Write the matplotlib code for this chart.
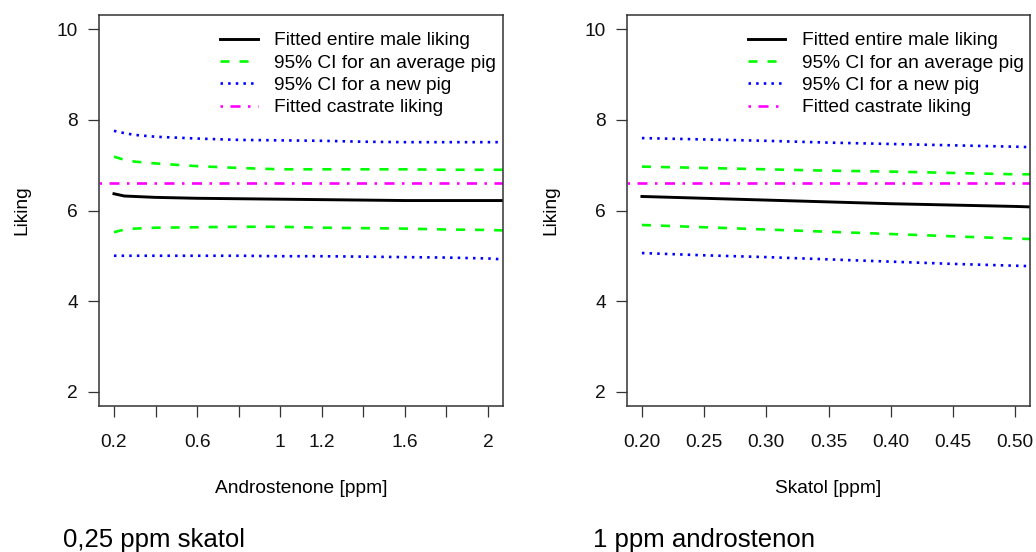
import matplotlib
matplotlib.use("Agg")
import matplotlib.pyplot as plt

plt.rcParams["font.family"] = ["Liberation Sans", "DejaVu Sans"]
plt.rcParams["lines.scale_dashes"] = False

# ── data ─────────────────────────────────────────────────────────────────────
# left panel: liking vs androstenone at 0,25 ppm skatol
andro_x = [0.2, 0.25, 0.3, 0.4, 0.6, 0.8, 1.0, 1.2, 1.4, 1.6, 1.8, 2.0, 2.07]
andro_fit = [6.37, 6.32, 6.31, 6.29, 6.27, 6.26, 6.25, 6.24, 6.23, 6.22, 6.22, 6.22, 6.22]
andro_avg_hi = [7.19, 7.12, 7.08, 7.04, 6.98, 6.94, 6.91, 6.91, 6.91, 6.91, 6.90, 6.90, 6.90]
andro_avg_lo = [5.52, 5.58, 5.60, 5.62, 5.63, 5.64, 5.64, 5.62, 5.61, 5.60, 5.58, 5.57, 5.56]
andro_new_hi = [7.76, 7.71, 7.67, 7.63, 7.59, 7.56, 7.55, 7.54, 7.52, 7.51, 7.51, 7.51, 7.51]
andro_new_lo = [5.00, 5.00, 5.00, 5.00, 5.00, 5.00, 4.99, 4.99, 4.98, 4.97, 4.96, 4.94, 4.92]

# right panel: liking vs skatol at 1 ppm androstenone
skatol_x = [0.2, 0.25, 0.3, 0.35, 0.4, 0.45, 0.5, 0.512]
skatol_fit = [6.31, 6.27, 6.23, 6.19, 6.15, 6.12, 6.09, 6.08]
skatol_avg_hi = [6.97, 6.94, 6.91, 6.88, 6.86, 6.83, 6.80, 6.80]
skatol_avg_lo = [5.68, 5.63, 5.58, 5.53, 5.48, 5.43, 5.38, 5.37]
skatol_new_hi = [7.60, 7.57, 7.54, 7.50, 7.47, 7.44, 7.41, 7.40]
skatol_new_lo = [5.06, 5.01, 4.97, 4.92, 4.87, 4.82, 4.78, 4.77]

castrate_liking = 6.6

andro_ticks = [0.2, 0.4, 0.6, 0.8, 1.0, 1.2, 1.4, 1.6, 1.8, 2.0]
andro_ticklabels = ["0.2", "", "0.6", "", "1", "1.2", "", "1.6", "", "2"]
skatol_ticks = [0.20, 0.25, 0.30, 0.35, 0.40, 0.45, 0.50]
skatol_ticklabels = ["0.20", "0.25", "0.30", "0.35", "0.40", "0.45", "0.50"]
y_ticks = [2, 4, 6, 8, 10]

legend_labels = ["Fitted entire male liking", "95% CI for an average pig",
                 "95% CI for a new pig", "Fitted castrate liking"]

FS = 13.8
GREEN = "#00FF00"
BLUE = "#0000FF"
MAGENTA = "#FF00FF"
DASH = (0, (6.5, 7.2))
DOT = (0, (1.8, 3.7))
DASHDOT = (0, (1.8, 5.4, 7.2, 5.4))
LW = 1.9


def draw_panel(ax, x, fit, avg_hi, avg_lo, new_hi, new_lo, xlim, ticks,
               ticklabels, xlabel):
    h_fit, = ax.plot(x, fit, color="black", lw=2.1)
    h_avg, = ax.plot(x, avg_hi, color=GREEN, lw=LW, ls=DASH)
    ax.plot(x, avg_lo, color=GREEN, lw=LW, ls=DASH)
    h_new, = ax.plot(x, new_hi, color=BLUE, lw=LW, ls=DOT)
    ax.plot(x, new_lo, color=BLUE, lw=LW, ls=DOT)
    h_cas = ax.axhline(castrate_liking, color=MAGENTA, lw=LW, ls=DASHDOT)

    ax.set_xlim(*xlim)
    ax.set_ylim(1.68, 10.32)
    ax.set_xticks(ticks)
    ax.set_xticklabels(ticklabels)
    ax.set_yticks(y_ticks)
    ax.tick_params(labelsize=FS, length=8, width=0.9, color="#333333",
                   labelcolor="#111111")
    ax.tick_params(axis="x", pad=12.5)
    ax.tick_params(axis="y", pad=7)
    for s in ax.spines.values():
        s.set_linewidth(1.1)
        s.set_color("#333333")

    ax.set_xlabel(xlabel, fontsize=FS)
    ax.xaxis.set_label_coords(0.5, -0.21)
    ax.xaxis.label.set_va("center")
    ax.set_ylabel("Liking", fontsize=FS)
    ax.yaxis.set_label_coords(-0.19, 0.5)
    ax.yaxis.label.set_va("center")

    ax.legend([h_fit, h_avg, h_new, h_cas], legend_labels, loc="upper left",
              bbox_to_anchor=(0.30, 0.957), frameon=False, fontsize=FS,
              handlelength=1.95, handletextpad=0.85, labelspacing=0.26,
              borderpad=0, borderaxespad=0)


fig = plt.figure(figsize=(10.36, 5.52), dpi=100)
ax1 = fig.add_axes([99 / 1036, 146 / 552, 404 / 1036, 391 / 552])
ax2 = fig.add_axes([627 / 1036, 146 / 552, 403 / 1036, 391 / 552])

draw_panel(ax1, andro_x, andro_fit, andro_avg_hi, andro_avg_lo,
           andro_new_hi, andro_new_lo, (0.128, 2.072), andro_ticks,
           andro_ticklabels, "Androstenone [ppm]")
draw_panel(ax2, skatol_x, skatol_fit, skatol_avg_hi, skatol_avg_lo,
           skatol_new_hi, skatol_new_lo, (0.188, 0.512), skatol_ticks,
           skatol_ticklabels, "Skatol [ppm]")

fig.text(63 / 1036, 5 / 552, "0,25 ppm skatol", fontsize=18.5, va="baseline")
fig.text(593 / 1036, 5 / 552, "1 ppm androstenon", fontsize=18.5, va="baseline")

fig.savefig("out.png", dpi=100)
